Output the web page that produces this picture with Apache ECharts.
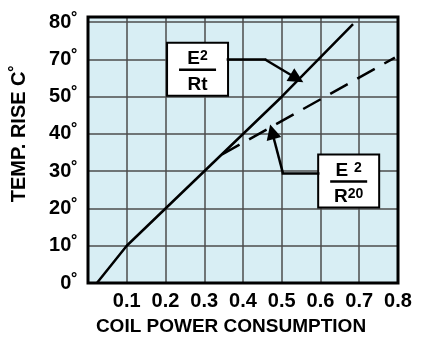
<!DOCTYPE html>
<html>
<head>
<meta charset="utf-8">
<script src="https://cdn.jsdelivr.net/npm/echarts@6/dist/echarts.min.js"></script>
<style>
  html, body { margin: 0; padding: 0; background: #fff; }
  #chart { width: 422px; height: 341px; }
</style>
</head>
<body>
<div id="chart"></div>
<script>
  // y is in grid steps of the printed scale (the print skips 60, so the labels go 50 -> 70)
  var yTickLabels = ['0˚', '10˚', '20˚', '30˚', '40˚', '50˚', '70˚', '80˚'];
  var yTop = 71.4;
  var xMax = 0.8;

  // E²/Rt, solid
  var hotCurve = [[0.023, 0], [0.1, 10], [0.3, 30], [0.5, 50], [0.684, 69.5]];
  // E²/R20, dashed
  var coldCurve = [[0.346, 34.5], [0.792, 60.5]];

  // leader arrows from the boxes to the curves (last point is the arrow tip)
  var rtLeader = [[0.361, 60], [0.457, 60], [0.539, 54.9]];
  var r20Leader = [[0.594, 29.5], [0.503, 29.5], [0.475, 40.6]];

  // top-left corner of each label box
  var rtBoxAt = [0.204, 64.5];
  var r20BoxAt = [0.594, 34.5];

  var FONT = "'Liberation Sans', Arial, sans-serif";

  var chart = echarts.init(document.getElementById('chart'));

  // polyline lines can't carry symbols, so split each leader into segments
  var plainSegs = [], arrowSegs = [];
  [rtLeader, r20Leader].forEach(function (pts) {
    for (var i = 0; i < pts.length - 1; i++) {
      var seg = {coords: [pts[i], pts[i + 1]]};
      if (i === pts.length - 2) arrowSegs.push(seg);
      else plainSegs.push(seg);
    }
  });

  chart.setOption({
    animation: false,
    grid: {
      left: 88, right: 24, top: 17, bottom: 55,
      show: true,
      backgroundColor: '#d8eef4',
      borderWidth: 0
    },
    xAxis: {
      type: 'value',
      min: 0, max: xMax, interval: 0.1,
      axisLine: {show: false},
      axisTick: {show: false},
      splitLine: {show: true, lineStyle: {color: '#4d4d4d', width: 1.5}},
      axisLabel: {
        margin: 8,
        color: '#000',
        fontFamily: FONT, fontWeight: 'bold', fontSize: 20,
        formatter: function (v) { return v === 0 ? '' : v.toFixed(1); }
      },
      name: 'COIL POWER CONSUMPTION',
      nameLocation: 'middle',
      nameGap: 34,
      nameTextStyle: {
        color: '#000', fontFamily: FONT, fontWeight: 'bold', fontSize: 19,
        padding: [0, 24, 0, 0]
      }
    },
    yAxis: {
      type: 'value',
      min: 0, max: yTop, interval: 10,
      axisLine: {show: false},
      axisTick: {show: false},
      splitLine: {show: true, lineStyle: {color: '#4d4d4d', width: 1.5}},
      axisLabel: {
        margin: 10,
        color: '#000',
        fontFamily: FONT, fontWeight: 'bold', fontSize: 20,
        formatter: function (v) {
          return v % 10 === 0 ? yTickLabels[v / 10] : '';
        }
      },
      name: 'TEMP. RISE C˚',
      nameLocation: 'middle',
      nameGap: 59,
      nameTextStyle: {
        color: '#000', fontFamily: FONT, fontWeight: 'bold', fontSize: 20,
        padding: [0, 0, 0, 33]
      }
    },
    series: [
      {
        name: 'E²/Rt',
        type: 'line',
        data: hotCurve,
        showSymbol: false,
        silent: true,
        lineStyle: {color: '#000', width: 2.5},
        z: 4
      },
      {
        name: 'E²/R20',
        type: 'line',
        data: coldCurve,
        showSymbol: false,
        silent: true,
        lineStyle: {color: '#000', width: 2.5, type: [20, 11]},
        z: 4
      },
      {
        type: 'lines',
        coordinateSystem: 'cartesian2d',
        silent: true,
        symbol: 'none',
        lineStyle: {color: '#000', width: 2.5, opacity: 1, cap: 'square'},
        data: plainSegs,
        z: 5
      },
      {
        type: 'lines',
        coordinateSystem: 'cartesian2d',
        silent: true,
        // solid triangle pointing up; the series turns it along the segment
        symbol: ['none', 'path://M6,0 L12,16 L0,16 Z'],
        symbolSize: 15,
        lineStyle: {color: '#000', width: 2.5, opacity: 1},
        data: arrowSegs,
        z: 5
      }
    ]
  });

  function fractionBox(at, topText, bottomText) {
    var p = chart.convertToPixel({gridIndex: 0}, at);
    var rich = {
      b: {fontFamily: FONT, fontWeight: 'bold', fontSize: 19, fill: '#000'},
      s: {fontFamily: FONT, fontWeight: 'bold', fontSize: 14, fill: '#000', verticalAlign: 'top'},
      sp: {fontFamily: FONT, fontWeight: 'bold', fontSize: 14, fill: '#000', verticalAlign: 'top', padding: [0, 0, 0, 6]}
    };
    return {
      type: 'group',
      x: p[0], y: p[1],
      z: 10,
      children: [
        {type: 'rect', shape: {x: 0, y: 0, width: 61, height: 53},
          style: {fill: '#fff', stroke: '#000', lineWidth: 2}},
        {type: 'text', x: 30.5, y: 16,
          style: {text: topText, rich: rich, align: 'center', verticalAlign: 'middle'}},
        {type: 'line', shape: {x1: 12, y1: 27, x2: 49, y2: 27},
          style: {stroke: '#000', lineWidth: 2.5}},
        {type: 'text', x: 30.5, y: 42,
          style: {text: bottomText, rich: rich, align: 'center', verticalAlign: 'middle'}}
      ]
    };
  }

  var c0 = chart.convertToPixel({gridIndex: 0}, [0, yTop]);
  var c1 = chart.convertToPixel({gridIndex: 0}, [xMax, 0]);

  chart.setOption({
    graphic: [
      {
        type: 'rect',
        z: 8,
        silent: true,
        shape: {x: c0[0], y: c0[1], width: c1[0] - c0[0], height: c1[1] - c0[1]},
        style: {fill: null, stroke: '#000', lineWidth: 3}
      },
      fractionBox(rtBoxAt, '{b|E}{s|2}', '{b|Rt}'),
      fractionBox(r20BoxAt, '{b|E}{sp|2}', '{b|R}{s|20}')
    ]
  });
</script>
</body>
</html>
